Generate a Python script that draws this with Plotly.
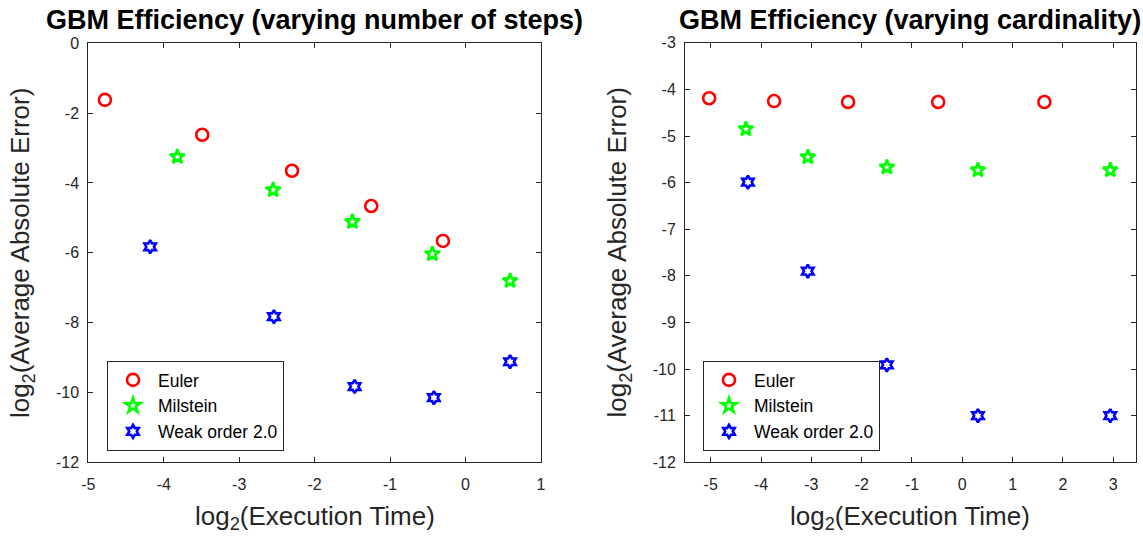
import plotly.graph_objects as go

# ---- GBM efficiency data (log2 execution time vs log2 average absolute error) ----
# Left panel: varying number of time steps
steps_euler_time = [-4.78, -3.49, -2.30, -1.25, -0.30]
steps_euler_err = [-1.62, -2.62, -3.65, -4.66, -5.66]
steps_milstein_time = [-3.82, -2.55, -1.50, -0.44, 0.59]
steps_milstein_err = [-3.25, -4.20, -5.11, -6.03, -6.80]
steps_weak2_time = [-4.18, -2.54, -1.47, -0.42, 0.59]
steps_weak2_err = [-5.83, -7.83, -9.83, -10.15, -9.12]

# Right panel: varying cardinality
card_euler_time = [-5.03, -3.74, -2.27, -0.48, 1.63]
card_euler_err = [-4.19, -4.25, -4.27, -4.27, -4.27]
card_milstein_time = [-4.30, -3.07, -1.50, 0.31, 2.94]
card_milstein_err = [-4.85, -5.45, -5.67, -5.73, -5.73]
card_weak2_time = [-4.26, -3.07, -1.50, 0.31, 2.94]
card_weak2_err = [-5.99, -7.90, -9.91, -11.00, -11.00]

series_names = ["Euler", "Milstein", "Weak order 2.0"]

left_xticks = [-5, -4, -3, -2, -1, 0, 1]
left_yticks = [0, -2, -4, -6, -8, -10, -12]
right_xticks = [-5, -4, -3, -2, -1, 0, 1, 2, 3]
right_yticks = [-3, -4, -5, -6, -7, -8, -9, -10, -11, -12]

FONT = "Liberation Sans, Arial, Helvetica, sans-serif"
AXIS_COLOR = "#262626"
W, H = 1143, 537

styles = [
    dict(symbol="circle-open", color="#FF0000", size=12),
    dict(symbol="star-open", color="#00FF00", size=11),
    dict(symbol="hexagram-open", color="#0000FF", size=10),
]

fig = go.Figure()

left_sets = [
    (steps_euler_time, steps_euler_err),
    (steps_milstein_time, steps_milstein_err),
    (steps_weak2_time, steps_weak2_err),
]
right_sets = [
    (card_euler_time, card_euler_err),
    (card_milstein_time, card_milstein_err),
    (card_weak2_time, card_weak2_err),
]

for (xs, ys), name, st in zip(left_sets, series_names, styles):
    fig.add_trace(go.Scatter(
        x=xs, y=ys, mode="markers", name=name,
        xaxis="x", yaxis="y", legend="legend",
        marker=dict(symbol=st["symbol"], size=st["size"], color=st["color"],
                    line=dict(color=st["color"], width=2.6)),
    ))

for (xs, ys), name, st in zip(right_sets, series_names, styles):
    fig.add_trace(go.Scatter(
        x=xs, y=ys, mode="markers", name=name,
        xaxis="x2", yaxis="y2", legend="legend2",
        marker=dict(symbol=st["symbol"], size=st["size"], color=st["color"],
                    line=dict(color=st["color"], width=2.6)),
    ))


def px_x(p):
    return p / W


def px_y(p):
    return 1 - p / H


def labels(vals):
    # plain hyphen-minus labels
    return [str(v) for v in vals]


axis_common = dict(
    showline=True, linecolor=AXIS_COLOR, linewidth=1, mirror="ticks",
    ticks="inside", ticklen=5, tickcolor=AXIS_COLOR, tickwidth=1,
    showgrid=False, zeroline=False, automargin=False,
    tickfont=dict(family=FONT, size=16, color=AXIS_COLOR),
)

# plot-area boxes in pixels
L_BOX = (88.3, 541.0, 43.3, 462.3)
R_BOX = (685.0, 1135.7, 42.8, 462.3)

legend_common = dict(
    xanchor="left", yanchor="top", bgcolor="white",
    bordercolor=AXIS_COLOR, borderwidth=1, itemwidth=40,
    font=dict(family=FONT, size=17.5, color="black"),
)

fig.update_layout(
    width=W, height=H,
    margin=dict(l=0, r=0, t=0, b=0),
    paper_bgcolor="white", plot_bgcolor="white",
    font=dict(family=FONT, color=AXIS_COLOR),
    xaxis=dict(domain=[px_x(L_BOX[0]), px_x(L_BOX[1])], range=[-5, 1],
               tickvals=left_xticks, ticktext=labels(left_xticks),
               ticklabelstandoff=7, anchor="y", **axis_common),
    yaxis=dict(domain=[px_y(L_BOX[3]), px_y(L_BOX[2])], range=[-12, 0],
               tickvals=left_yticks, ticktext=labels(left_yticks),
               ticklabelstandoff=5, anchor="x", **axis_common),
    xaxis2=dict(domain=[px_x(R_BOX[0]), px_x(R_BOX[1])], range=[-5.51, 3.445],
                tickvals=right_xticks, ticktext=labels(right_xticks),
                ticklabelstandoff=7, anchor="y2", **axis_common),
    yaxis2=dict(domain=[px_y(R_BOX[3]), px_y(R_BOX[2])], range=[-12, -3],
                tickvals=right_yticks, ticktext=labels(right_yticks),
                ticklabelstandoff=5, anchor="x2", **axis_common),
    legend=dict(x=px_x(107), y=px_y(361), **legend_common),
    legend2=dict(x=px_x(703), y=px_y(361), **legend_common),
    showlegend=True,
)

titles = [
    ("GBM Efficiency (varying number of steps)", L_BOX),
    ("GBM Efficiency (varying cardinality)", R_BOX),
]
for text, box in titles:
    cx = (box[0] + box[1]) / 2
    fig.add_annotation(
        text=f"<b>{text}</b>", x=px_x(cx), y=px_y(20), xref="paper", yref="paper",
        xanchor="center", yanchor="middle", showarrow=False,
        font=dict(family=FONT, size=27, color="black"),
    )
    fig.add_annotation(
        text="log<sub>2</sub>(Execution Time)", x=px_x(cx), y=px_y(517),
        xref="paper", yref="paper", xanchor="center", yanchor="middle",
        showarrow=False, font=dict(family=FONT, size=26, color=AXIS_COLOR),
    )
    fig.add_annotation(
        text="log<sub>2</sub>(Average Absolute Error)", x=px_x(box[0] - 66),
        y=px_y((box[2] + box[3]) / 2), xref="paper", yref="paper",
        xanchor="center", yanchor="middle", textangle=-90, showarrow=False,
        font=dict(family=FONT, size=26, color=AXIS_COLOR),
    )

fig.write_html("out.html")
